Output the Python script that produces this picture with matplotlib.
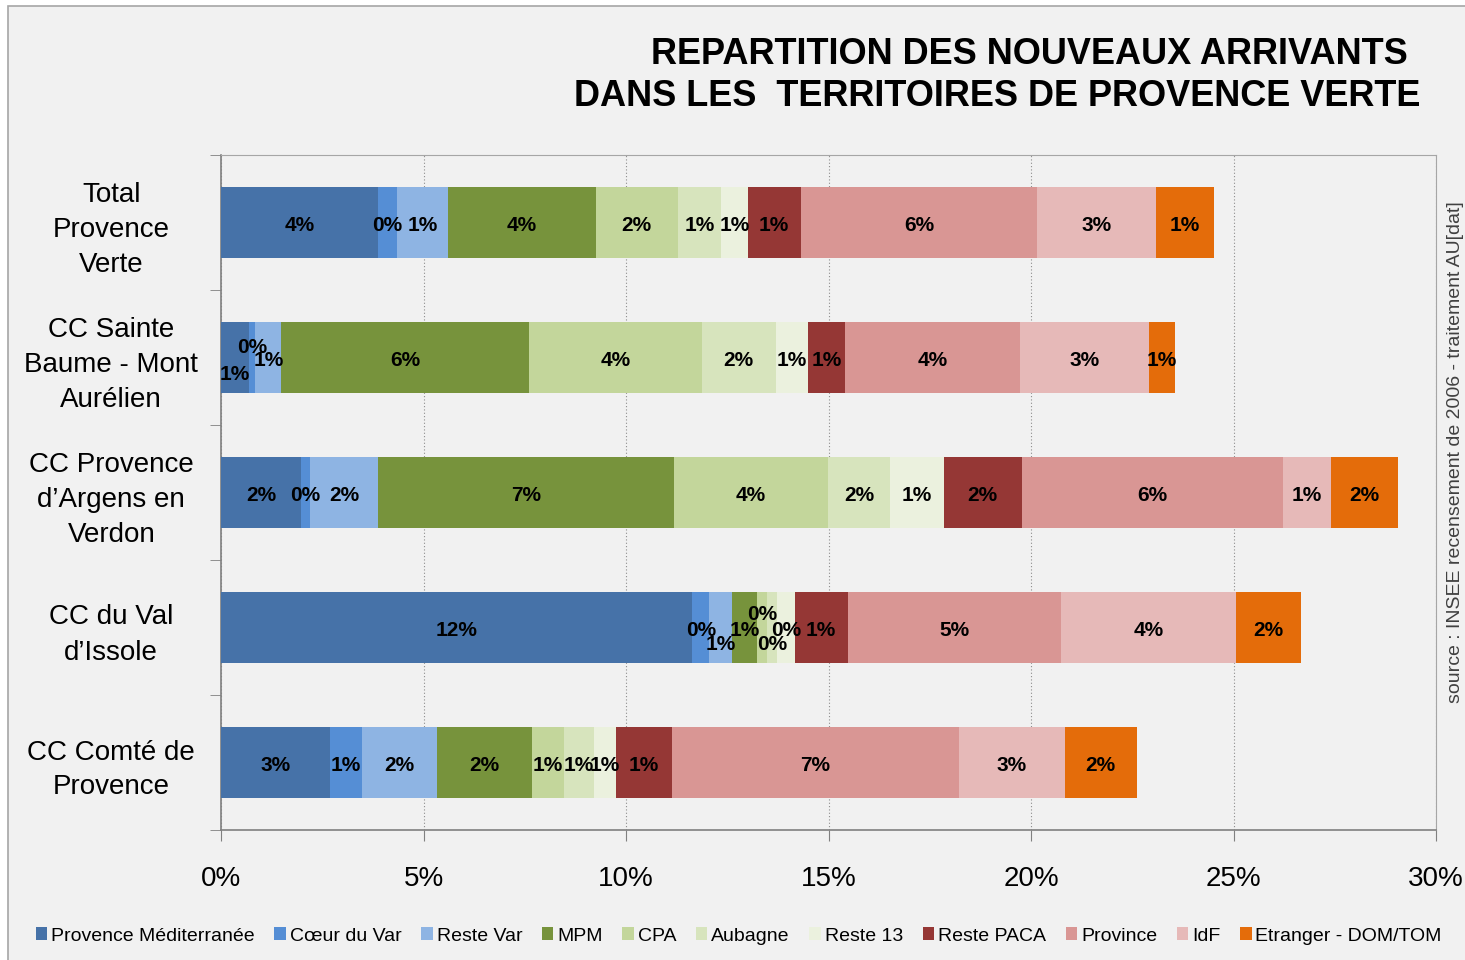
import numpy as np
import matplotlib.pyplot as plt
from matplotlib.patches import Rectangle
from matplotlib.ticker import FuncFormatter, FixedLocator

plt.rcParams['font.family'] = ['Liberation Sans Narrow', 'Liberation Sans', 'DejaVu Sans']

categories = ["Total\nProvence\nVerte",
              "CC Sainte\nBaume - Mont\nAurélien",
              "CC Provence\nd\u2019Argens en\nVerdon",
              "CC du Val\nd\u2019Issole",
              "CC Comté de\nProvence"]

series = ["Provence Méditerranée", "Cœur du Var", "Reste Var", "MPM", "CPA",
          "Aubagne", "Reste 13", "Reste PACA", "Province", "IdF",
          "Etranger - DOM/TOM"]

# values in %, one list per territory (same order as series)
total_pv = [3.88, 0.47, 1.25, 3.65, 2.03, 1.06, 0.67, 1.30, 5.85, 2.92, 1.44]
sainte_baume = [0.69, 0.16, 0.64, 6.12, 4.26, 1.83, 0.79, 0.91, 4.34, 3.17, 0.65]
argens = [1.98, 0.22, 1.67, 7.32, 3.79, 1.54, 1.32, 1.93, 6.45, 1.19, 1.64]
val_issole = [11.63, 0.43, 0.56, 0.62, 0.24, 0.26, 0.43, 1.30, 5.28, 4.30, 1.62]
comte = [2.68, 0.80, 1.85, 2.34, 0.80, 0.75, 0.53, 1.38, 7.10, 2.60, 1.78]

colors = ["#4672A8", "#558ED5", "#8EB4E3", "#77933C", "#C3D69B",
          "#D7E4BD", "#EBF1DE", "#953735", "#D99694", "#E6B9B8", "#E46C0A"]

data = np.array([total_pv, sainte_baume, argens, val_issole, comte])

# Excel staggers some overlapping labels (row, series) -> y offset in points
label_shift = {(1, 0): -10, (1, 1): 9,
               (3, 2): -10, (3, 4): 11, (3, 5): -10}

bg = "#F1F1F1"
fig = plt.figure(figsize=(14.65, 9.6), dpi=100, facecolor="white")
fig.patches.append(Rectangle((8 / 1465, -0.01), 1.0, 1 - 6 / 960 + 0.01,
                             transform=fig.transFigure, facecolor=bg,
                             edgecolor="#A6A6A6", linewidth=1.2, zorder=-10))

ax = fig.add_axes([221 / 1465, 1 - 830 / 960, (1436 - 221) / 1465, (830 - 155) / 960])
ax.set_facecolor(bg)

y = np.arange(len(categories))
left = np.zeros(len(categories))
for j, name in enumerate(series):
    vals = data[:, j]
    ax.barh(y, vals, left=left, height=0.53, color=colors[j], label=name,
            edgecolor="none", zorder=3)
    for i, v in enumerate(vals):
        dy = label_shift.get((i, j), 0)
        ax.annotate(f"{v:.0f}%", (left[i] + v / 2, y[i]), xytext=(0, dy - 2),
                    textcoords="offset points", ha="center", va="center",
                    fontsize=15, fontweight="bold", color="black", zorder=5)
    left += vals

ax.set_xlim(0, 30)
ax.set_ylim(len(categories) - 0.5, -0.5)
ax.set_xticks(np.arange(0, 31, 5))
ax.xaxis.set_major_formatter(FuncFormatter(lambda v, p: f"{v:.0f}%"))
ax.tick_params(axis="x", labelsize=20, length=8, color="#808080", pad=18)
ax.grid(axis="x", color="#8C8C8C", linestyle=(0, (1, 2)), linewidth=0.8, zorder=1)

ax.set_yticks(y)
ax.set_yticklabels(categories, fontsize=20, ha="center")
for t in ax.get_yticklabels():
    t.set_linespacing(1.45)
ax.tick_params(axis="y", length=0, pad=79)
ax.yaxis.set_minor_locator(FixedLocator(np.arange(-0.5, len(categories), 1)))
ax.tick_params(axis="y", which="minor", length=8, color="#808080")

for s in ["top", "right"]:
    ax.spines[s].set_color("#A6A6A6")
for s in ["left", "bottom"]:
    ax.spines[s].set_color("#808080")
    ax.spines[s].set_linewidth(1.2)

fig.text(1408 / 1465, 1 - 55 / 960, "REPARTITION DES NOUVEAUX ARRIVANTS",
         ha="right", va="center", fontsize=26, fontweight="bold",
         family=["Liberation Sans", "DejaVu Sans"])
fig.text(1420 / 1465, 1 - 97 / 960, "DANS LES  TERRITOIRES DE PROVENCE VERTE",
         ha="right", va="center", fontsize=26, fontweight="bold",
         family=["Liberation Sans", "DejaVu Sans"])

fig.text(1455 / 1465, 1 - 452 / 960,
         "source : INSEE recensement de 2006 - traitement AU[dat]",
         rotation=90, ha="center", va="center", fontsize=14, color="#404040")

fig.legend(loc="center left", bbox_to_anchor=(28 / 1465, 1 - 936 / 960), ncol=11,
           frameon=False, fontsize=14, handlelength=0.6, handleheight=0.6,
           handletextpad=0.2, columnspacing=1.0, borderaxespad=0)

fig.savefig("out.png", dpi=100, facecolor=fig.get_facecolor())
